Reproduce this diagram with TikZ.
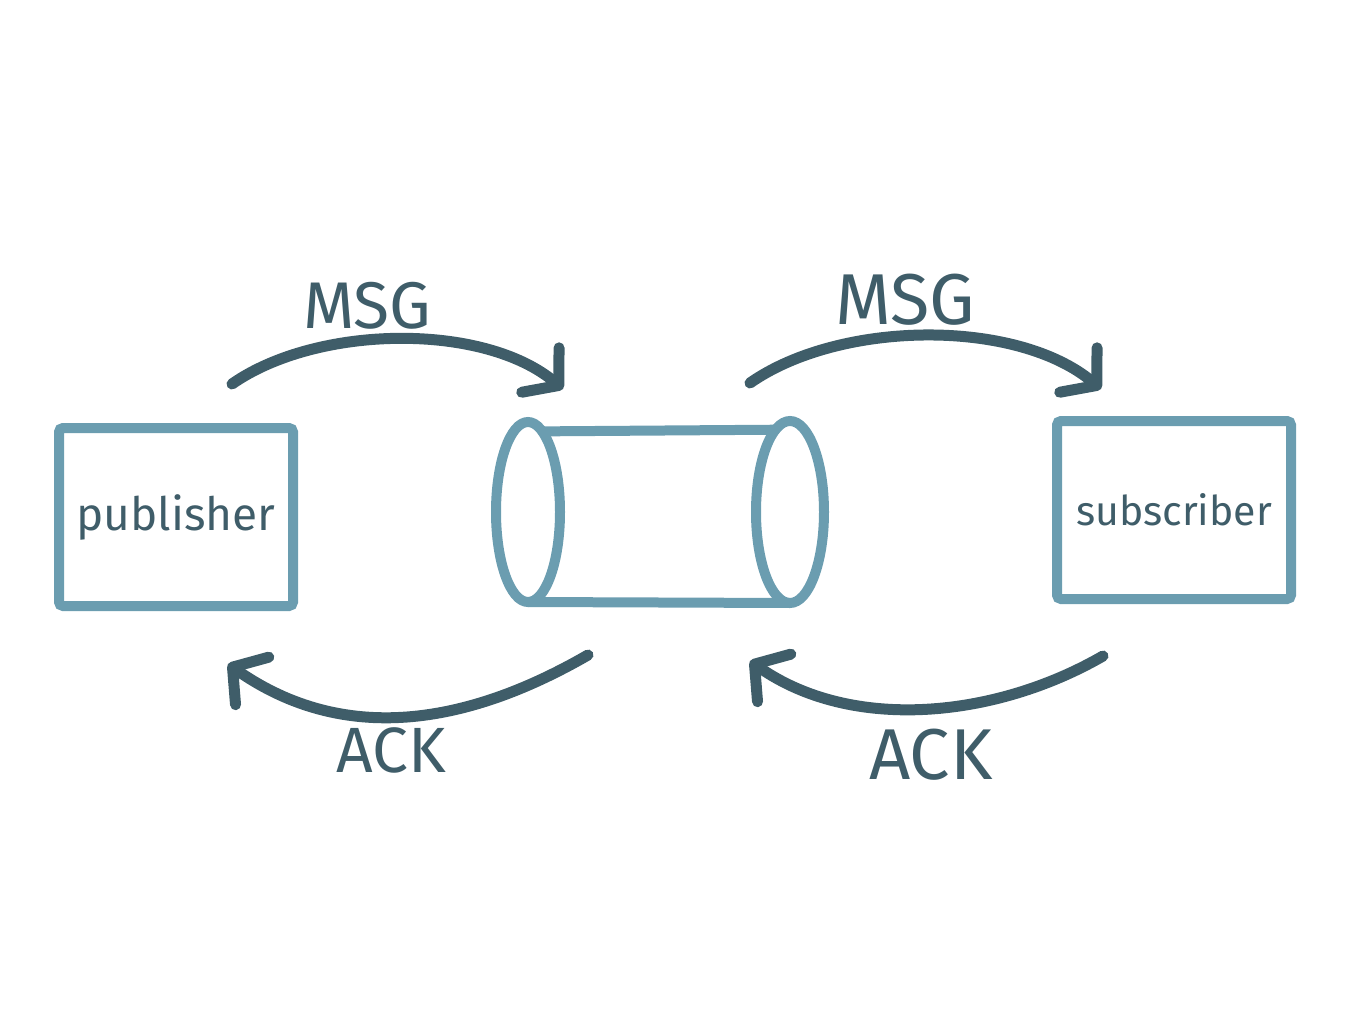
\documentclass[tikz,border=0pt]{standalone}
\usepackage{fontspec}
\setmainfont{Fira Sans}
\usetikzlibrary{arrows.meta,shapes.geometric,calc}
\definecolor{cBox}{HTML}{6B9DB0}
\definecolor{cInk}{HTML}{3F5D69}
\tikzset{
  box/.style     = {draw=cBox, line width=10pt, rounded corners=4pt,
                    minimum width=234pt, minimum height=178pt,
                    text=cInk, inner sep=0pt, outer sep=0pt},
  pipeend/.style = {ellipse, draw=cBox, line width=10pt, minimum width=64pt,
                    minimum height=180pt, inner sep=0pt, outer sep=0pt},
  pipe/.style    = {draw=cBox, line width=10pt, line cap=round},
  flow/.style    = {draw=cInk, line width=11pt, line cap=round,
                    -{Straight Barb[length=24pt, width=58pt, round]}},
  tag/.style     = {text=cInk, inner sep=0pt},
}

\begin{document}
\begin{tikzpicture}[x=1pt, y=-1pt]
  \useasboundingbox (0,0) rectangle (1366,1024);
  % endpoints
  \node[box, font=\fontsize{46}{46}\selectfont] (pub) at (176,517) {publisher};
  \node[box, font=\fontsize{41}{41}\selectfont] (sub) at (1174,510) {subscriber};
  % queue
  \node[pipeend] (qin) at (528,512) {};
  \node[pipeend, minimum width=68pt, minimum height=182pt] (qout) at (790,512) {};
  \draw[pipe] (qin.80) -- (qout.100);
  \draw[pipe] (qin.south) -- (qout.south);
  % arrow ends
  \coordinate (m1a) at (232,384);  \coordinate (m1b) at (563,389);
  \coordinate (m2a) at (750,383);  \coordinate (m2b) at (1101,389);
  \coordinate (a1a) at (588,655);  \coordinate (a1b) at (228,664);
  \coordinate (a2a) at (1103,656); \coordinate (a2b) at (750,661);
  % messages
  \draw[flow] (m1a) to[out=35, in=140, looseness=0.8] (m1b);
  \draw[flow] (m2a) to[out=35, in=140, looseness=0.8] (m2b);
  \draw[flow] (a1a) to[out=-150, in=-35] (a1b);
  \draw[flow] (a2a) to[out=-150, in=-35, looseness=0.9] (a2b);
  % labels
  \node[tag, font=\fontsize{66}{66}\selectfont] (msg1) at (367,306) {MSG};
  \node[tag, font=\fontsize{72}{72}\selectfont] (msg2) at (905,300) {MSG};
  \node[tag, font=\fontsize{64}{64}\selectfont] (ack1) at (391,750) {ACK};
  \node[tag, font=\fontsize{72}{72}\selectfont] (ack2) at (931,755) {ACK};
\end{tikzpicture}
\end{document}
